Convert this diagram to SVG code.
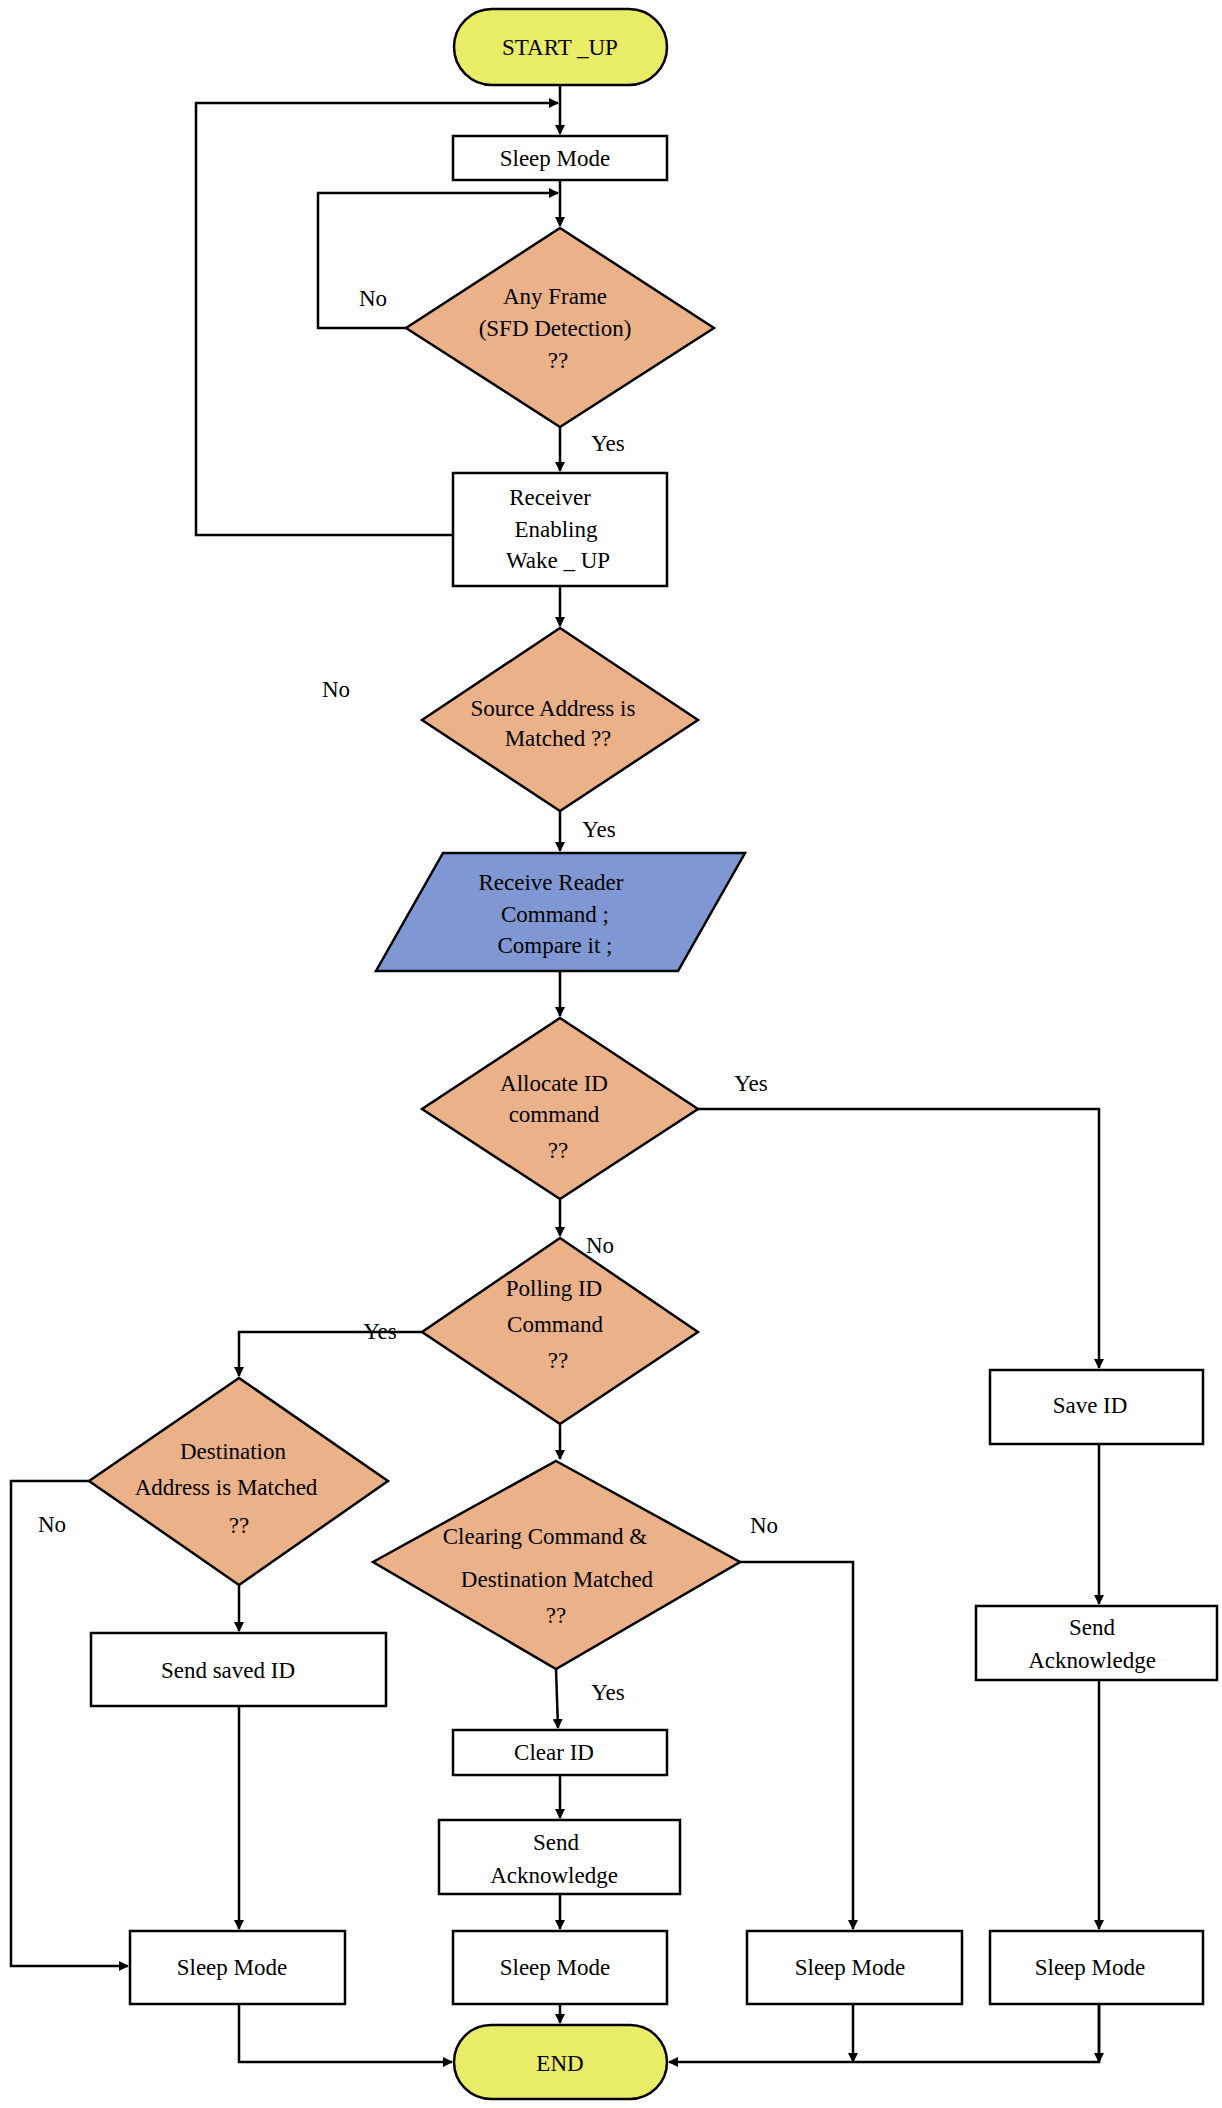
<svg xmlns="http://www.w3.org/2000/svg" width="1222" height="2108" viewBox="0 0 1222 2108">
<style>
.b{fill:#fff;stroke:#000;stroke-width:2.5}
.d{fill:#ebb189;stroke:#000;stroke-width:2.5}
.t{fill:#e8ec66;stroke:#000;stroke-width:2.5}
.p{fill:#7f98d3;stroke:#000;stroke-width:2.5}
text{font-family:"Liberation Serif",serif;font-size:23px;text-anchor:middle;fill:#000}
.c path{fill:none;stroke:#000;stroke-width:2.5;marker-end:url(#a)}
.c path.n{marker-end:none}
</style>
<defs><marker id="a" markerWidth="10" markerHeight="10" refX="9" refY="5" orient="auto" markerUnits="userSpaceOnUse"><path d="M0,0L10,5L0,10z" fill="#000"/></marker></defs>
<rect width="1222" height="2108" fill="#fff"/>
<g class="c">
<path d="M560,85V134"/>
<path d="M453,535H196V103H558"/>
<path d="M560,180V226"/>
<path d="M406,328H318V193H558"/>
<path d="M560,427V471"/>
<path d="M560,586V626"/>
<path d="M560,811V851"/>
<path d="M560,971V1016"/>
<path d="M560,1199V1236"/>
<path d="M698,1109H1099V1368"/>
<path d="M422,1332H239V1376"/>
<path d="M560,1424V1459"/>
<path d="M239,1585V1631"/>
<path d="M89,1481H11V1966H128"/>
<path d="M239,1706V1929"/>
<path d="M724,1562H853V1929"/>
<path d="M556,1669L558,1728"/>
<path d="M560,1775V1818"/>
<path d="M560,1894V1929"/>
<path d="M560,2004V2023"/>
<path d="M1099,1444V1604"/>
<path d="M1099,1680V1929"/>
<path d="M239,2004V2062H452"/>
<path d="M1099,2004V2062H669"/>
<path d="M853,2004V2062"/>
<path d="M1099,2004V2062"/>
</g>
<g id="start"><rect class="t" x="454" y="9" width="213" height="76" rx="38"/><text x="560" y="55">START _UP</text></g>
<g id="sleep0"><rect class="b" x="453" y="136" width="214" height="44"/><text x="555" y="166">Sleep Mode</text></g>
<g id="anyframe"><polygon class="d" points="560,228 714,328 560,427 406,328"/><text x="555" y="304">Any Frame</text><text x="555" y="336">(SFD Detection)</text><text x="558" y="368">??</text></g>
<text x="373" y="306">No</text><text x="608" y="451">Yes</text>
<g id="receiver"><rect class="b" x="453" y="473" width="214" height="113"/><text x="550" y="505">Receiver</text><text x="556" y="537">Enabling</text><text x="558" y="568">Wake _ UP</text></g>
<g id="source"><polygon class="d" points="560,628 698,720 560,811 422,720" /><text x="553" y="716">Source Address is</text><text x="558" y="746">Matched ??</text></g>
<text x="336" y="697">No</text><text x="599" y="837">Yes</text>
<g id="receive"><polygon class="p" points="443,853 745,853 678,971 376,971"/><text x="551" y="890">Receive Reader</text><text x="555" y="922">Command ;</text><text x="555" y="953">Compare it ;</text></g>
<g id="allocate"><polygon class="d" points="560,1018 698,1109 560,1199 422,1109"/><text x="554" y="1091">Allocate ID</text><text x="554" y="1122">command</text><text x="558" y="1158">??</text></g>
<text x="751" y="1091">Yes</text><text x="600" y="1253">No</text>
<g id="polling"><polygon class="d" points="560,1238 698,1332 560,1424 422,1332"/><text x="554" y="1349" dy="-53">Polling ID</text><text x="555" y="1332">Command</text><text x="558" y="1368">??</text></g>
<text x="380" y="1339">Yes</text><text x="602" y="1511">No</text>
<g id="dest"><polygon class="d" points="239,1378 388,1481 239,1585 89,1481"/><text x="233" y="1522" dy="-63">Destination</text><text x="226" y="1495">Address is Matched</text><text x="239" y="1533">??</text></g>
<text x="52" y="1532">No</text><text x="275" y="1655">Yes</text>
<g id="saved"><rect class="b" x="91" y="1728" width="294" height="0" style="display:none"/><rect class="b" x="91" y="1727" width="0" height="0" style="display:none"/><rect class="b" x="91" y="1728" width="0" height="0" style="display:none"/><rect class="b" x="91" y="1728" width="0" height="0" style="display:none"/></g>
<g id="sendsaved"><rect class="b" x="91" y="1727" width="295" height="83" style="display:none"/><rect class="b" x="91" y="1728" width="0" height="0" style="display:none"/></g>
<g id="sendsavedid"><rect class="b" x="91" y="1728" width="296" height="0" style="display:none"/></g>
<g id="sendsavedbox"><rect class="b" x="91" y="1728" width="0" height="0" style="display:none"/></g>
<g id="clearing"><polygon class="d" points="556,1461 740,1562 556,1769 373,1562" style="display:none"/><polygon class="d" points="556,1461 740,1562 556,1669 373,1562"/><text x="545" y="1544">Clearing Command &amp;</text><text x="557" y="1587">Destination Matched</text><text x="556" y="1623">??</text></g>
<text x="764" y="1533">No</text><text x="608" y="1700">Yes</text>
<g id="sendid"><rect class="b" x="91" y="1728" width="0" height="0" style="display:none"/></g>
<g id="sendsaved2"><rect class="b" x="91" y="1633" width="295" height="73"/><text x="228" y="1678">Send saved ID</text></g>
<g id="clearid"><rect class="b" x="453" y="1730" width="214" height="45"/><text x="554" y="1760">Clear ID</text></g>
<g id="ack1"><rect class="b" x="439" y="1820" width="241" height="74"/><text x="556" y="1850">Send</text><text x="554" y="1883">Acknowledge</text></g>
<g id="saveid"><rect class="b" x="990" y="1370" width="213" height="74"/><text x="1090" y="1413">Save ID</text></g>
<g id="ack2"><rect class="b" x="976" y="1606" width="241" height="74"/><text x="1092" y="1635">Send</text><text x="1092" y="1668">Acknowledge</text></g>
<g id="sleep1"><rect class="b" x="130" y="1931" width="215" height="73"/><text x="232" y="1975">Sleep Mode</text></g>
<g id="sleep2"><rect class="b" x="453" y="1931" width="214" height="73"/><text x="555" y="1975">Sleep Mode</text></g>
<g id="sleep3"><rect class="b" x="747" y="1931" width="215" height="73"/><text x="850" y="1975">Sleep Mode</text></g>
<g id="sleep4"><rect class="b" x="990" y="1931" width="213" height="73"/><text x="1090" y="1975">Sleep Mode</text></g>
<g id="end"><rect class="t" x="454" y="2025" width="213" height="74" rx="37"/><text x="560" y="2071">END</text></g>
</svg>
